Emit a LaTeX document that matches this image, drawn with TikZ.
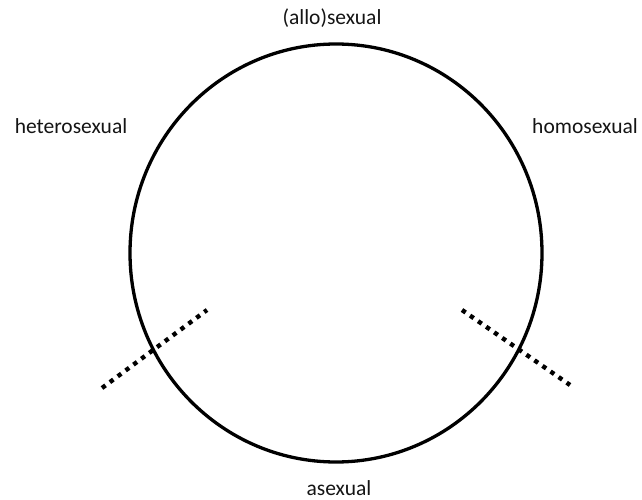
\documentclass[tikz,border=0pt]{standalone}
\usepackage{fontspec}
\setmainfont{Carlito}
\usetikzlibrary{shapes.geometric}
\definecolor{ink}{RGB}{20,20,20}

\begin{document}
\begin{tikzpicture}[x=1pt,y=-1pt,
    ring/.style={ellipse, draw=black, line width=3.3pt, inner sep=0pt,
                 minimum width=412pt, minimum height=418pt},
    cut/.style={draw=black, line width=4.4pt, dash pattern=on 4.4pt off 5.4pt},
    lab/.style={font=\fontsize{21.5}{24}\selectfont, color=ink, anchor=base, inner sep=0pt}]
  \useasboundingbox (0,0) rectangle (642,500);
  \def\cx{336}
  \def\cy{253}
  \node[ring] (ring) at (\cx,\cy) {};
  % labels round the circle
  \node[lab] (allo)   at (332,25)  {(allo)sexual};
  \node[lab] (hetero) at (71,134)  {heterosexual};
  \node[lab] (homo)   at (585,134) {homosexual};
  \node[lab] (ace)    at (339,495) {asexual};
  % dotted boundaries
  \coordinate (l1) at (102,388);  \coordinate (l2) at (207,310);
  \coordinate (r1) at (462,310);  \coordinate (r2) at (570,385);
  \draw[cut] (l1) -- (l2);
  \draw[cut] (r1) -- (r2);
\end{tikzpicture}
\end{document}
